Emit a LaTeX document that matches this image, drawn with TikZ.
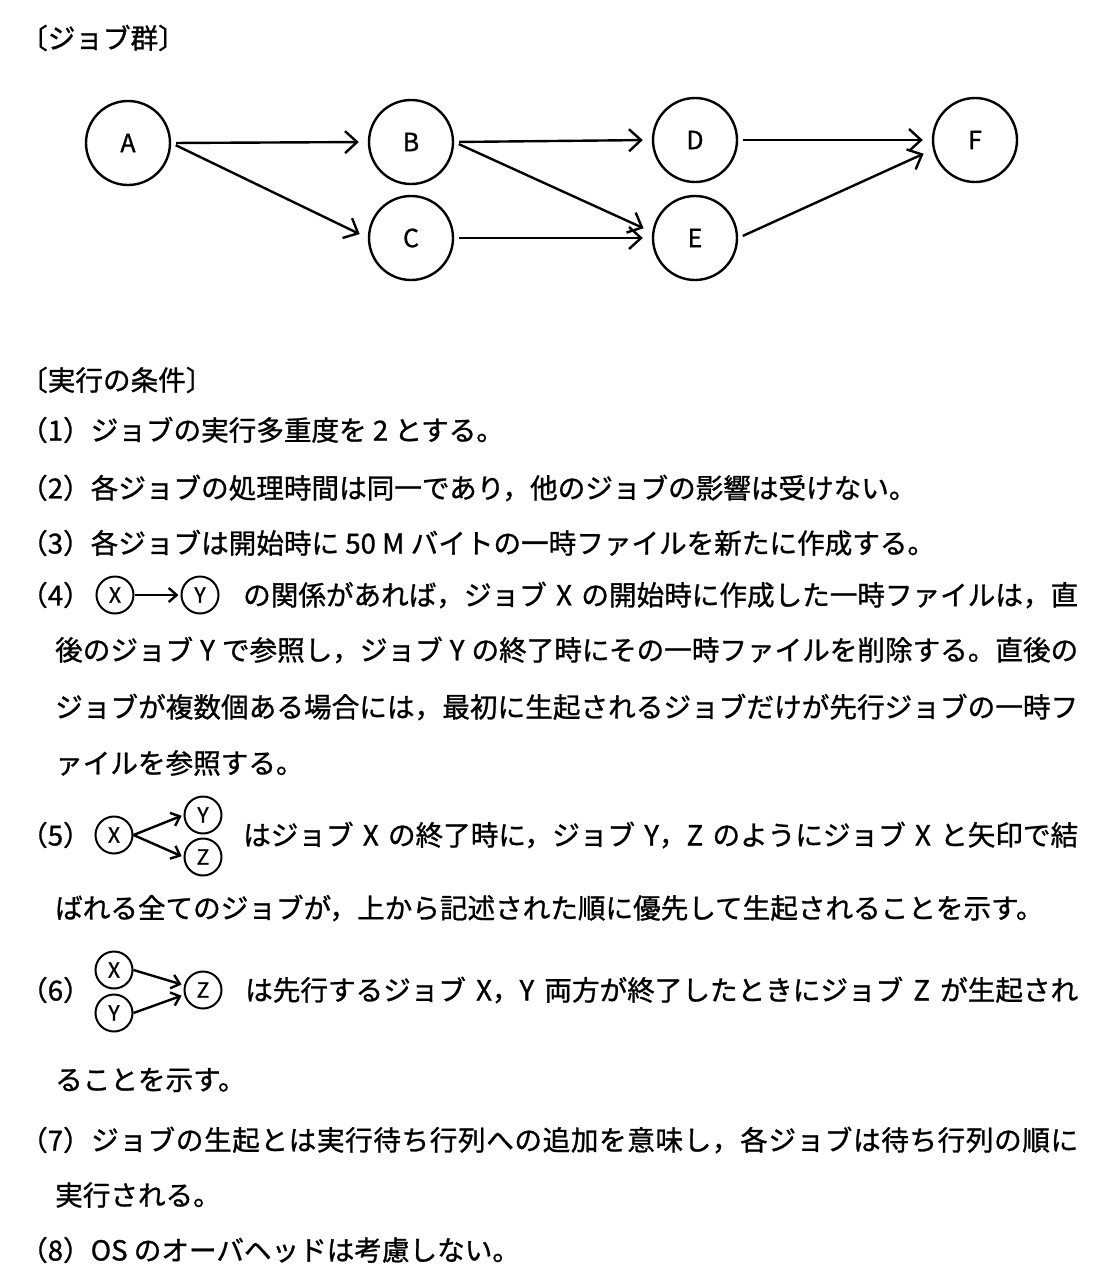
\documentclass[tikz,border=0pt]{standalone}
\usepackage{fontspec}
\setmainfont[FakeBold=1]{Noto Sans CJK JP}
\usetikzlibrary{arrows.meta}
\newcommand{\jfill}[2]{\hbox to #1pt{#2}}
\let\spreadend\relax
\def\spreadloop#1{\ifx\spreadend#1\else#1\hskip 0pt plus 1fil\relax\expandafter\spreadloop\fi}
\newcommand{\jspread}[2]{\hbox to #1pt{\spreadloop#2\spreadend\unskip}}
\begin{document}
\begin{tikzpicture}[x=1pt,y=-1pt,
  bigjob/.style={circle, draw, line width=2.4pt, minimum size=84pt, inner sep=0pt, font=\fontsize{25pt}{25pt}\selectfont},
  smalljob/.style={circle, draw, line width=2pt, minimum size=37pt, inner sep=0pt, font=\fontsize{21pt}{21pt}\selectfont},
  bigarrow/.style={line width=2.4pt, -{Straight Barb[length=12pt,width=22pt]}, shorten <=5pt, shorten >=9pt},
  smallarrow/.style={line width=2.4pt, -{Straight Barb[length=8pt,width=14pt]}, shorten >=2pt},
  txt/.style={anchor=west, inner sep=0pt, font=\fontsize{27.6pt}{34pt}\selectfont}]
\useasboundingbox (0,0) rectangle (1109,1285);
\fill[white] (0,0) rectangle (1109,1285);

% job graph
\node[txt] (t0) at (20,38) {〔ジョブ群〕};
\node[bigjob] (A) at (128,143) {A};
\node[bigjob] (B) at (411,142) {B};
\node[bigjob] (C) at (411,238) {C};
\node[bigjob] (D) at (695,140) {D};
\node[bigjob] (E) at (695,238) {E};
\node[bigjob] (F) at (975,140) {F};
\draw[bigarrow] (A.east) -- (B.west);
\draw[bigarrow] (A.east) -- (C.west);
\draw[bigarrow] (B.east) -- (D.west);
\draw[bigarrow] (B.east) -- ([yshift=6pt]E.west);
\draw[bigarrow] (C.east) -- (E.west);
\draw[bigarrow] (D.east) -- (F.west);
\draw[bigarrow] (E.east) -- ([yshift=-10pt]F.west);

% conditions
\node[txt] (t1) at (20,380) {〔実行の条件〕};
\node[txt] (c1) at (20,430) {（1）ジョブの実行多重度を 2 とする。};
\node[txt] (c2) at (20,488) {（2）各ジョブの処理時間は同一であり，他のジョブの影響は受けない。};
\node[txt] (c3) at (20,543) {（3）各ジョブは開始時に 50 M バイトの一時ファイルを新たに作成する。};

% (4)
\node[txt] (l4) at (20,595) {（4）};
\node[smalljob] (x4) at (115,595) {X};
\node[smalljob] (y4) at (200,595) {Y};
\draw[smallarrow] (x4.east) -- (y4.west);
\node[txt] (c4a) at (243,595) {\jfill{835}{の関係があれば，ジョブ X の開始時に作成した一時ファイルは，直}};
\node[txt] (c4b) at (55,650) {\jfill{1023}{後のジョブ Y で参照し，ジョブ Y の終了時にその一時ファイルを削除する。直後の}};
\node[txt] (c4c) at (55,707) {\jspread{1023}{ジョブが複数個ある場合には，最初に生起されるジョブだけが先行ジョブの一時フ}};
\node[txt] (c4d) at (55,763) {ァイルを参照する。};

% (5)
\node[txt] (l5) at (20,835) {（5）};
\node[smalljob] (x5) at (114,835) {X};
\node[smalljob] (y5) at (203,815) {Y};
\node[smalljob] (z5) at (203,857) {Z};
\draw[smallarrow] (x5.east) -- (y5.west);
\draw[smallarrow] (x5.east) -- (z5.west);
\node[txt] (c5a) at (243,835) {\jfill{835}{はジョブ X の終了時に，ジョブ Y，Z のようにジョブ X と矢印で結}};
\node[txt] (c5b) at (55,908) {ばれる全てのジョブが，上から記述された順に優先して生起されることを示す。};

% (6)
\node[txt] (l6) at (20,990) {（6）};
\node[smalljob] (x6) at (114,970) {X};
\node[smalljob] (y6) at (114,1013) {Y};
\node[smalljob] (z6) at (203,990) {Z};
\draw[smallarrow] (x6.east) -- ([yshift=5pt]z6.west);
\draw[smallarrow] (y6.east) -- ([yshift=-5pt]z6.west);
\node[txt] (c6a) at (245,990) {\jfill{833}{は先行するジョブ X，Y 両方が終了したときにジョブ Z が生起され}};
\node[txt] (c6b) at (55,1080) {ることを示す。};

% (7)(8)
\node[txt] (l7) at (20,1140) {（7）};
\node[txt] (c7a) at (91,1140) {\jspread{987}{ジョブの生起とは実行待ち行列への追加を意味し，各ジョブは待ち行列の順に}};
\node[txt] (c7b) at (55,1195) {実行される。};
\node[txt] (c8) at (20,1250) {（8）OS のオーバヘッドは考慮しない。};
\end{tikzpicture}
\end{document}
